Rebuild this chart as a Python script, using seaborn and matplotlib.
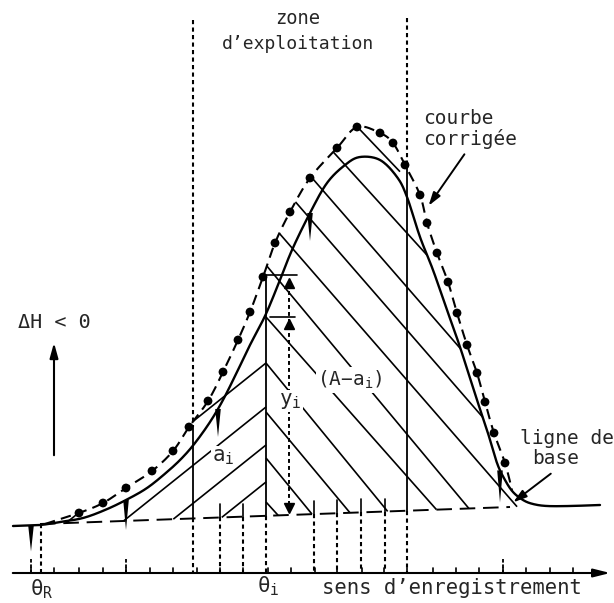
import numpy as np
import matplotlib
matplotlib.use('Agg')
import matplotlib.pyplot as plt
import seaborn as sns

sol_x = [13, 40, 60, 83, 105, 126, 147, 167, 182, 195, 210, 223, 237, 250, 265, 278, 292, 310,
         327, 345, 360, 380, 397, 407, 420, 433, 447, 460, 477, 487, 497, 505, 513, 523, 533, 547, 570, 600]
sol_y = [526, 525, 522, 518, 510, 500, 488, 472, 458, 443, 422, 400, 372, 345, 316, 285, 250, 213,
         183, 165, 157, 160, 177, 197, 237, 270, 310, 347, 400, 430, 463, 480, 492, 500, 504, 506, 506, 505]

corr_x = [45, 79, 103, 126, 152, 173, 189, 208, 223, 238, 250, 263, 275, 290, 310, 337, 357, 380,
          393, 405, 420, 427, 437, 448, 457, 467, 477, 485, 494, 505, 512]
corr_y = [524, 513, 503, 488, 471, 451, 427, 401, 372, 340, 312, 277, 243, 212, 178, 148, 127, 133,
          143, 165, 195, 223, 253, 282, 313, 345, 373, 402, 433, 463, 490]

base_x = [40, 510]
base_y = [524, 507]

theta_i = 266
# hachures "\" : ordonnee au passage de theta_i et pente
back_c = [502, 458, 412, 363, 317, 265, 218, 168, 125, 78, 31]
back_s = [1.1, 1.22, 1.2, 1.22, 1.13, 1.2, 1.15, 1.15, 1.15, 1.1, 1.05]
# hachures "/" (zone a_i)
fwd_c = [363, 407, 445, 482]
fwd_s = 0.8

spike_x = [31, 126, 218, 310, 500]
spike_len = [26, 30, 28, 28, 32]

axis_y = 573
tick_x = [31, 54, 79, 103, 126, 150, 173, 197, 220, 243, 268, 291, 315, 337, 362, 384,
          407, 433, 456, 479, 503, 526, 550, 573]
tall_tick_x = [31, 126, 503]
drop_x = [41, 193, 220, 243, 266, 314, 337, 361, 385, 407]
base_tick_x = [220, 243, 314, 337, 361, 385]

sns.set_style('white')
plt.rcParams['font.family'] = ['DejaVu Sans Mono', 'DejaVu Sans']
plt.rcParams['mathtext.default'] = 'regular'

fig = plt.figure(figsize=(6.14, 6.03), dpi=100)
ax = fig.add_axes([0, 0, 1, 1])
ax.set_xlim(0, 614)
ax.set_ylim(603, 0)
ax.axis('off')


def smooth(xp, yp, n=20):
    # trace lisse (Catmull-Rom) passant par les points lus
    p = np.column_stack([xp, yp]).astype(float)
    p = np.vstack([p[0], p, p[-1]])
    out = []
    t = np.linspace(0, 1, n, endpoint=False)[:, None]
    for i in range(1, len(p) - 2):
        p0, p1, p2, p3 = p[i - 1], p[i], p[i + 1], p[i + 2]
        out.append(0.5 * ((2 * p1) + (-p0 + p2) * t + (2 * p0 - 5 * p1 + 4 * p2 - p3) * t ** 2
                          + (-p0 + 3 * p1 - 3 * p2 + p3) * t ** 3))
    out.append(p[-2][None, :])
    out = np.vstack(out)
    return out[:, 0], out[:, 1]


sol_sx, sol_sy = smooth(sol_x, sol_y)
corr_sx, corr_sy = smooth(corr_x, corr_y)


def base(x):
    x = np.asarray(x, dtype=float)
    return base_y[0] + (base_y[1] - base_y[0]) / (base_x[1] - base_x[0]) * (x - base_x[0])


def corr(x):
    return np.interp(x, corr_sx, corr_sy)


def top_edge(x):
    return np.where(x < 400, np.interp(x, corr_sx, corr_sy), np.interp(x, sol_sx, sol_sy))


def draw_runs(xs, ys, mask):
    idx = np.where(mask)[0]
    if len(idx) == 0:
        return
    for s in np.split(idx, np.where(np.diff(idx) > 1)[0] + 1):
        if len(s) > 1:
            ax.plot(xs[s], ys[s], color='k', lw=1.2, solid_capstyle='butt')


# hachures
for c, s in zip(back_c, back_s):
    xs = np.linspace(theta_i, 530, 3000)
    ys = c + s * (xs - theta_i)
    draw_runs(xs, ys, (ys >= top_edge(xs)) & (ys <= base(xs)))
for c in fwd_c:
    xs = np.linspace(30, theta_i, 3000)
    ys = c + fwd_s * (theta_i - xs)
    draw_runs(xs, ys, (ys >= corr(xs)) & (ys <= base(xs)))

# ligne de base
ax.plot(base_x, base_y, color='k', lw=1.4, linestyle=(0, (8, 4)))

# courbe enregistree et courbe corrigee
sns.lineplot(x=sol_sx, y=sol_sy, ax=ax, color='k', lw=1.7, sort=False)
sns.lineplot(x=corr_sx, y=corr_sy, ax=ax, color='k', lw=1.5, sort=False, linestyle=(0, (5, 3)))
sns.scatterplot(x=corr_x[1:-1], y=corr_y[1:-1], ax=ax, color='k', s=40, edgecolor='none', zorder=5)

# pointes
for sx, ln in zip(spike_x, spike_len):
    y0 = np.interp(sx, sol_sx, sol_sy)
    ax.fill([sx - 2.8, sx + 2.8, sx], [y0, y0, y0 + ln], color='k', lw=0)

dot = (0, (2, 1.6))
# verticales de la zone d'exploitation
ax.plot([193, 193], [20, 427], color='k', lw=1.5, linestyle=dot)
ax.plot([193, 193], [427, base(193)], color='k', lw=1.3)
ax.plot([407, 407], [18, 165], color='k', lw=1.5, linestyle=dot)
ax.plot([407, 407], [165, base(407)], color='k', lw=1.3)
ax.plot([theta_i, theta_i], [277, base(theta_i)], color='k', lw=1.3)

for dx in drop_x:
    ax.plot([dx, dx], [base(dx), axis_y], color='k', lw=1.5, linestyle=dot)
for bx in base_tick_x:
    ax.plot([bx, bx], [base(bx) - 13, base(bx)], color='k', lw=1.2)

# axe des abscisses
ax.annotate('', xy=(613, axis_y), xytext=(10, axis_y),
            arrowprops=dict(arrowstyle='-|>,head_length=1.0,head_width=0.25', color='k', lw=1.5))
for tx in tick_x:
    ax.plot([tx, tx], [axis_y - 5, axis_y], color='k', lw=1.2)
for tx in tall_tick_x:
    ax.plot([tx, tx], [axis_y - 14, axis_y], color='k', lw=1.3, linestyle=(0, (2, 1)))

# repere y_i
ax.plot([theta_i, 297], [275, 275], color='k', lw=1.2)
ax.plot([270, 295], [317, 317], color='k', lw=1.2)
ax.plot([289, 289], [284, 508], color='k', lw=1.4, linestyle=dot)
ax.plot([289], [283], marker='^', ms=7, color='k')
ax.plot([289], [324], marker='^', ms=7, color='k')
ax.plot([289], [508], marker='v', ms=7, color='k')

# fleches
ax.annotate('', xy=(54, 340), xytext=(54, 458),
            arrowprops=dict(arrowstyle='-|>,head_length=0.9,head_width=0.25', color='k', lw=1.5))
ax.annotate('', xy=(427, 208), xytext=(466, 152),
            arrowprops=dict(arrowstyle='-|>,head_length=0.8,head_width=0.25', color='k', lw=1.4))
ax.annotate('', xy=(511, 504), xytext=(553, 472),
            arrowprops=dict(arrowstyle='-|>,head_length=0.8,head_width=0.25', color='k', lw=1.4))

# textes
ax.text(298, 18, 'zone', ha='center', va='center', fontsize=13.5)
ax.text(298, 44, 'd’exploitation', ha='center', va='center', fontsize=13)
ax.text(423, 119, 'courbe', ha='left', va='center', fontsize=14)
ax.text(423, 139, 'corrigée', ha='left', va='center', fontsize=14)
ax.text(520, 439, 'ligne de', ha='left', va='center', fontsize=14)
ax.text(532, 458, 'base', ha='left', va='center', fontsize=14)
ax.text(18, 323, 'ΔH < 0', ha='left', va='center', fontsize=14.5)
ax.text(322, 588, 'sens d’enregistrement', ha='left', va='center', fontsize=14.8)
ax.text(30, 589, 'θ$_R$', ha='left', va='center', fontsize=15)
ax.text(257, 586, 'θ$_i$', ha='left', va='center', fontsize=15)
ax.text(279, 401, 'y$_i$', ha='left', va='center', fontsize=15,
        bbox=dict(facecolor='white', edgecolor='none', pad=1))
ax.text(212, 457, 'a$_i$', ha='left', va='center', fontsize=15,
        bbox=dict(facecolor='white', edgecolor='none', pad=0.5))
ax.text(350, 380, '(A−a$_i$)', ha='center', va='center', fontsize=14,
        bbox=dict(facecolor='white', edgecolor='none', pad=1))

fig.savefig('out.png', dpi=100)
